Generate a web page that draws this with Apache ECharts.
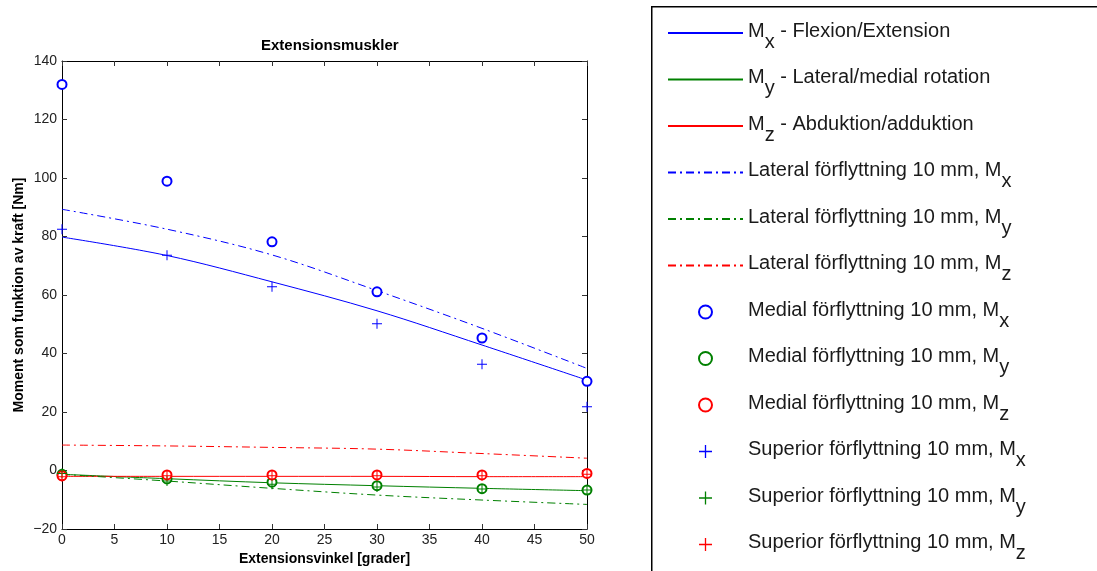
<!DOCTYPE html>
<html>
<head>
<meta charset="utf-8">
<script src="https://cdn.jsdelivr.net/npm/echarts@6/dist/echarts.min.js"></script>
<style>
  html, body { margin: 0; padding: 0; background: #fff; }
  #chart { width: 1097px; height: 571px; }
</style>
</head>
<body>
<div id="chart"></div>
<script>
// extension angle [grader]
var angles = [0, 10, 20, 30, 40, 50];

// fitted curves (solid)
var mxFit = [79.8, 73.5, 64.5, 54.6, 42.9, 30.9];
var myFit = [-1.3, -2.8, -4.2, -5.2, -6.1, -6.9];
var mzFit = [-2.0, -2.0, -2.0, -2.0, -2.1, -2.1];

// lateral förflyttning 10 mm (dash-dot)
var latMx = [89.3, 82.5, 73.7, 61.5, 48.6, 34.9];
var latMy = [-1.3, -3.6, -6.1, -8.4, -10.1, -11.6];
var latMz = [8.7, 8.4, 7.9, 7.3, 5.8, 4.2];

// medial förflyttning 10 mm (circles)
var medMx = [132.0, 98.9, 78.2, 61.1, 45.3, 30.5];
var medMy = [-1.3, -2.9, -4.0, -5.2, -6.2, -6.7];
var medMz = [-1.8, -1.5, -1.5, -1.5, -1.5, -1.0];

// superior förflyttning 10 mm (plus)
var supMx = [82.5, 73.6, 62.8, 50.2, 36.3, 21.8];
var supMy = [-1.0, -3.6, -4.7, -5.6, -6.3, -6.7];
var supMz = [-2.1, -1.8, -1.8, -1.8, -1.8, -1.3];

var names = [
  'M_x - Flexion/Extension',
  'M_y - Lateral/medial rotation',
  'M_z - Abduktion/adduktion',
  'Lateral förflyttning 10 mm, M_x',
  'Lateral förflyttning 10 mm, M_y',
  'Lateral förflyttning 10 mm, M_z',
  'Medial förflyttning 10 mm, M_x',
  'Medial förflyttning 10 mm, M_y',
  'Medial förflyttning 10 mm, M_z',
  'Superior förflyttning 10 mm, M_x',
  'Superior förflyttning 10 mm, M_y',
  'Superior förflyttning 10 mm, M_z'
];

var blue = '#0000ff', green = '#008000', red = '#ff0000';
var font = '"Liberation Sans", Arial, Helvetica, sans-serif';
var plus = 'path://M4.5,0h1v10h-1z M0,4.5h10v1h-10z';
var dashDot = [8, 4, 2, 4];

function pairs(vals) {
  return angles.map(function (a, i) { return [a, vals[i]]; });
}

function lineSeries(name, vals, color, type) {
  return {
    name: name, type: 'line', data: pairs(vals), symbol: 'none', smooth: 0.35,
    lineStyle: { color: color, width: 1, type: type },
    itemStyle: { color: color }, z: 2
  };
}

function markSeries(name, vals, color, symbol, size) {
  return {
    name: name, type: 'scatter', data: pairs(vals), symbol: symbol, symbolSize: size,
    itemStyle: { color: color, borderWidth: 1, opacity: 1 },
    z: 3
  };
}

function minus(v) { return String(v).replace('-', '\u2212'); }

// line entries hide the dot that the line legend icon adds
var legendData = names.map(function (n, i) {
  return i < 6 ? { name: n, itemStyle: { opacity: 0 } } : { name: n };
});

var axisBase = {
  axisLine: { onZero: false, show: true, lineStyle: { color: '#000', width: 1 } },
  axisTick: { show: true, inside: true, length: 5, lineStyle: { color: '#333' } },
  splitLine: { show: false }
};

var chart = echarts.init(document.getElementById('chart'));
chart.setOption({
  backgroundColor: '#fff',
  animation: false,
  textStyle: { fontFamily: font },
  title: {
    text: 'Extensionsmuskler', left: 256, top: 33,
    textStyle: { fontSize: 15, fontWeight: 'bold', color: '#000', fontFamily: font }
  },
  graphic: [{
    type: 'rect', left: 651, top: 6,
    shape: { width: 470, height: 600 },
    style: { fill: '#fff', stroke: '#000', lineWidth: 1.5 },
    z: -1
  }],
  legend: {
    orient: 'vertical', left: 662, top: 16, height: 640,
    itemWidth: 75, itemHeight: 13, itemGap: 15.5,
    data: legendData,
    textStyle: {
      fontSize: 20, color: '#1a1a1a', fontFamily: font,
      rich: {
        n: { fontSize: 20, lineHeight: 24, verticalAlign: 'top', color: '#1a1a1a', fontFamily: font },
        s: { fontSize: 20, lineHeight: 24, verticalAlign: 'top', padding: [11, 0, 0, 0], color: '#1a1a1a', fontFamily: font }
      }
    },
    formatter: function (name) {
      var i = name.indexOf('M_');
      var out = '{n|' + name.slice(0, i) + 'M}{s|' + name.charAt(i + 2) + '}';
      var rest = name.slice(i + 3);
      if (rest) out += '{n|' + rest + '}';
      return out;
    }
  },
  grid: { left: 62, top: 61, width: 525, height: 468 },
  xAxis: [Object.assign({
    type: 'value', min: 0, max: 50, interval: 5, position: 'bottom',
    name: 'Extensionsvinkel [grader]', nameLocation: 'middle', nameGap: 22,
    nameTextStyle: { fontSize: 14, fontWeight: 'bold', color: '#000', fontFamily: font },
    axisLabel: { fontSize: 14, color: '#222', margin: 4, formatter: minus }
  }, axisBase), Object.assign({
    type: 'value', min: 0, max: 50, interval: 5, position: 'top',
    axisLabel: { show: false }
  }, axisBase)],
  yAxis: [Object.assign({
    type: 'value', min: -20, max: 140, interval: 20, position: 'left',
    name: 'Moment som funktion av kraft [Nm]', nameLocation: 'middle', nameGap: 36,
    nameTextStyle: { fontSize: 14, fontWeight: 'bold', color: '#000', fontFamily: font },
    axisLabel: { fontSize: 14, color: '#222', margin: 5, formatter: minus }
  }, axisBase), Object.assign({
    type: 'value', min: -20, max: 140, interval: 20, position: 'right',
    axisLabel: { show: false }
  }, axisBase)],
  series: [
    lineSeries(names[0], mxFit, blue, 'solid'),
    lineSeries(names[1], myFit, green, 'solid'),
    lineSeries(names[2], mzFit, red, 'solid'),
    lineSeries(names[3], latMx, blue, dashDot),
    lineSeries(names[4], latMy, green, dashDot),
    lineSeries(names[5], latMz, red, dashDot),
    markSeries(names[6], medMx, blue, 'emptyCircle', 9),
    markSeries(names[7], medMy, green, 'emptyCircle', 9),
    markSeries(names[8], medMz, red, 'emptyCircle', 9),
    markSeries(names[9], supMx, blue, plus, 10),
    markSeries(names[10], supMy, green, plus, 10),
    markSeries(names[11], supMz, red, plus, 10)
  ]
});
</script>
</body>
</html>
